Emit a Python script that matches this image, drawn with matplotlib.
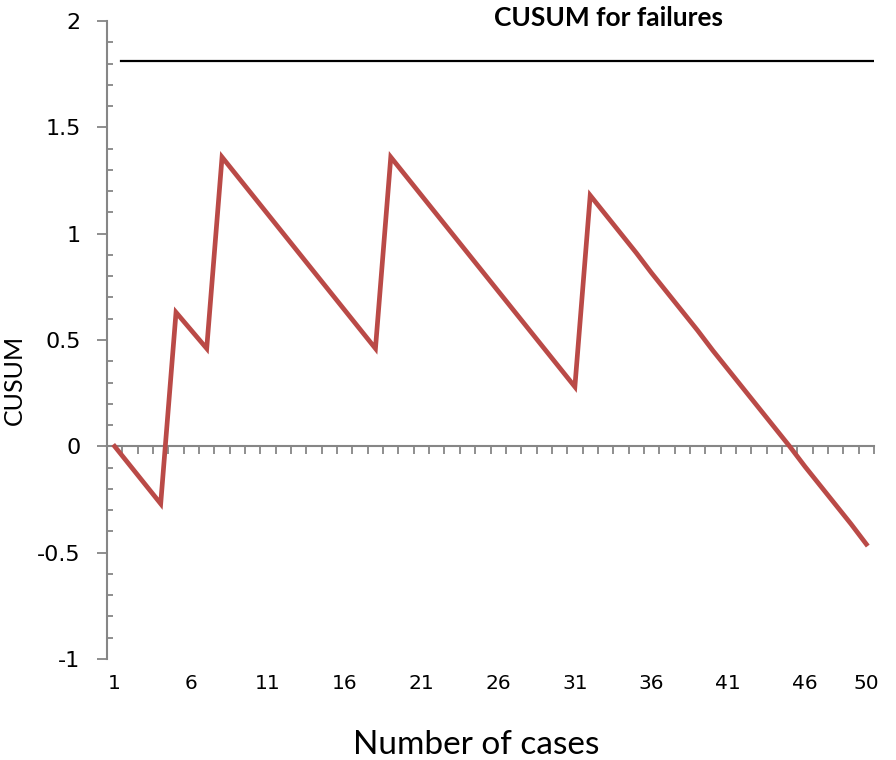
import numpy as np
import matplotlib
matplotlib.use("Agg")
import matplotlib.pyplot as plt
from matplotlib.ticker import MultipleLocator, FixedLocator

# ================================================
# DATA
# ================================================
cases = np.arange(1, 51)
cusum = [0.00, -0.09, -0.18, -0.27, 0.63, 0.545, 0.46, 1.36, 1.27, 1.18,
         1.09, 1.00, 0.91, 0.82, 0.73, 0.64, 0.55, 0.46, 1.36, 1.27,
         1.18, 1.09, 1.00, 0.91, 0.82, 0.73, 0.64, 0.55, 0.46, 0.37,
         0.28, 1.18, 1.09, 1.00, 0.91, 0.815, 0.725, 0.635, 0.545, 0.45,
         0.36, 0.27, 0.18, 0.09, 0.00, -0.095, -0.185, -0.275, -0.365, -0.46]
limit = 1.81
xtick_labels = [1, 6, 11, 16, 21, 26, 31, 36, 41, 46, 50]
ytick_labels = ["-1", "-0.5", "0", "0.5", "1", "1.5", "2"]

AXIS_GREY = "#868686"
LINE_RED = "#BA4A47"

fig = plt.figure(figsize=(8.96, 7.6), dpi=100)
ax = fig.add_axes([107 / 896, 1 - 659 / 760, 767 / 896, 638 / 760])

ax.plot(cases, cusum, color=LINE_RED, lw=3.4, solid_joinstyle="miter", zorder=3)
ax.axhline(limit, xmin=0.018, xmax=1.0, color="black", lw=1.6, zorder=2)

ax.set_xlim(0.5, 50.5)
ax.set_ylim(-1, 2)

# spines: only the left axis and the category axis through zero
for s in ["top", "right"]:
    ax.spines[s].set_visible(False)
ax.spines["left"].set_color(AXIS_GREY)
ax.spines["left"].set_linewidth(1.5)
ax.spines["bottom"].set_position(("data", 0))
ax.spines["bottom"].set_color(AXIS_GREY)
ax.spines["bottom"].set_linewidth(1.5)

# y ticks
ax.yaxis.set_minor_locator(MultipleLocator(0.1))
ax.set_yticks(np.arange(-1, 2.01, 0.5))
ax.set_yticklabels(ytick_labels)
ax.tick_params(axis="y", which="major", direction="out", length=7, width=1.3,
               color=AXIS_GREY, pad=12, labelsize=16, labelcolor="black")
ax.tick_params(axis="y", which="minor", direction="in", length=4, width=1.3,
               color=AXIS_GREY)

# x ticks: marks between categories, labels down at the bottom
ax.xaxis.set_minor_locator(FixedLocator(np.arange(1.5, 51, 1)))
ax.set_xticks(xtick_labels)
ax.set_xticklabels([str(v) for v in xtick_labels])
ax.tick_params(axis="x", which="major", length=0, pad=164, labelsize=14.5)
ax.tick_params(axis="x", which="minor", direction="out", length=5.5, width=1.3,
               color=AXIS_GREY)

fig.text(608 / 896, 1 - 18 / 760, "CUSUM for failures", ha="center", va="center",
         fontsize=19, fontweight="bold", family=["Lato", "DejaVu Sans"])
fig.text(476 / 896, 1 - 745 / 760, "Number of cases", ha="center", va="center",
         fontsize=24, family=["Lato", "DejaVu Sans"])
fig.text(14 / 896, 1 - 380 / 760, "CUSUM", ha="center", va="center",
         rotation=90, fontsize=18, family=["Lato", "DejaVu Sans"])

fig.savefig("out.png", dpi=100)
